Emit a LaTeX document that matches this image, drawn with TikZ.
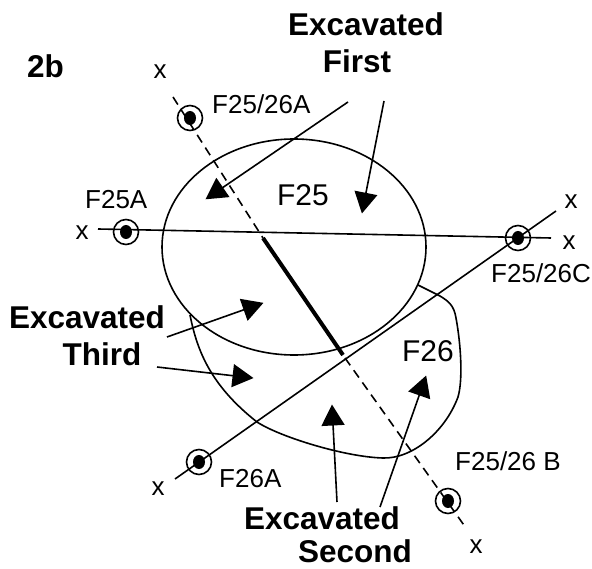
\documentclass[tikz,border=0pt]{standalone}
\usepackage{fontspec}
\setmainfont{Liberation Sans}
\usetikzlibrary{arrows.meta,shapes.geometric}
\begin{document}
\begin{tikzpicture}[x=1pt,y=-1pt,
  lab/.style={inner sep=0pt,anchor=base,font=\fontsize{26}{30}\selectfont},
  big/.style={inner sep=0pt,anchor=base,font=\fontsize{31.5}{34}\selectfont\bfseries},
  ring/.style={circle,draw,line width=1.6pt,minimum size=25pt,inner sep=0pt},
  dotc/.style={ellipse,fill=black,minimum width=12pt,minimum height=14pt,inner sep=0pt},
  outline/.style={line width=1.6pt},
  axis/.style={line width=1.6pt},
  cut/.style={line width=1.6pt,dash pattern=on 9pt off 6pt},
  pointer/.style={line width=1.6pt,-{Triangle[length=21pt,width=23pt]},shorten >=-0.5pt}]
\useasboundingbox (0,0) rectangle (592,569);
% F25 and F26
\node[draw,ellipse,outline,minimum width=264pt,minimum height=216pt,inner sep=0pt] (f25) at (294,247) {};
\draw[outline] (190,315) .. controls (197,350) and (210,385) .. (257,422)
  .. controls (280,437) and (345,457) .. (383,458)
  .. controls (412,459) and (445,432) .. (458,397)
  .. controls (463,380) and (461,345) .. (456,318)
  .. controls (454,305) and (448,301) .. (440,296)
  -- (418,285);
% axes
\coordinate (xa) at (98,229); \coordinate (xb) at (551,238);
\coordinate (ya) at (175,479); \coordinate (yb) at (556,211);
\coordinate (za) at (173,97); \coordinate (zb) at (466,528);
\coordinate (sa) at (263,238); \coordinate (sb) at (343,355);
\coordinate (sc) at (345,358);
\node[ring] (r1) at (126,232) {}; \node[dotc] at (126,232) {};
\node[ring] (r2) at (518,238) {}; \node[dotc] at (518,238) {};
\node[ring] (r3) at (199,462) {}; \node[dotc] at (199,462) {};
\node[ring] (r4) at (190,118) {}; \node[dotc] at (190,118) {};
\node[ring] (r5) at (448,501) {}; \node[dotc] at (448,501) {};
\draw[axis] (xa) -- (xb);
\draw[axis] (ya) -- (yb);
\draw[cut] (za) -- (sa);
\draw[cut] (sc) -- (zb);
\draw[line width=4pt] (sa) -- (sb);
% pointers
\coordinate (p1) at (348,102); \coordinate (q1) at (206,199);
\coordinate (p2) at (384,101); \coordinate (q2) at (362,213);
\coordinate (p3) at (167,337); \coordinate (q3) at (263,303);
\coordinate (p4) at (157,367); \coordinate (q4) at (253,378);
\coordinate (p5) at (337,502); \coordinate (q5) at (332,405);
\coordinate (p6) at (380,507); \coordinate (q6) at (426,376);
\foreach \i in {1,...,6} \draw[pointer] (p\i) -- (q\i);
% labels
\node[big] (e1) at (366,36) {Excavated};
\node[big] (e1b) at (357,73) {First};
\node[big] (e2) at (87,329) {Excavated};
\node[big] (e2b) at (102,366) {Third};
\node[big] (e3) at (322,529) {Excavated};
\node[big] (e3b) at (355,562) {Second};
\node[big,anchor=base west] (t) at (27,78) {2b};
\node[lab,font=\fontsize{30}{34}\selectfont] (n1) at (303,206) {F25};
\node[lab,font=\fontsize{30}{34}\selectfont] (n2) at (428,362) {F26};
\node[lab,anchor=base west] (l1) at (212,114) {F25/26A};
\node[lab,anchor=base west] (l2) at (85,209) {F25A};
\node[lab,anchor=base west] (l3) at (491,283) {F25/26C};
\node[lab,anchor=base west] (l4) at (219,487) {F26A};
\node[lab,anchor=base west] (l5) at (455,470) {F25/26 B};
\node[lab] at (160,79) {x};
\node[lab] at (82,240) {x};
\node[lab] at (571,209) {x};
\node[lab] at (569,250) {x};
\node[lab] at (158,495) {x};
\node[lab] at (476,553) {x};
\end{tikzpicture}
\end{document}
